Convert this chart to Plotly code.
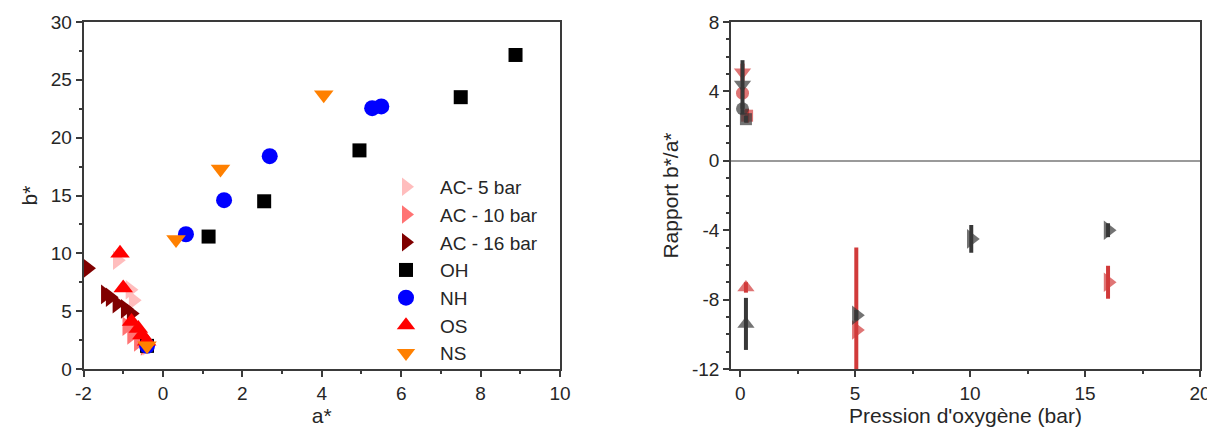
import plotly.graph_objects as go

# ---------------- Left panel data (a*, b*) ----------------
ac5_a = [-1.15, -0.83, -0.75, -0.4]
ac5_b = [9.4, 6.85, 5.95, 2.0]
ac10_a = [-0.91, -0.79, -0.62, -0.45]
ac10_b = [3.7, 2.95, 2.35, 2.0]
ac16_a = [-1.9, -1.45, -1.33, -1.16, -0.95, -0.8]
ac16_b = [8.7, 6.45, 6.2, 5.65, 5.2, 4.8]
oh_a = [-0.4, 1.15, 2.55, 4.95, 7.5, 8.88]
oh_b = [2.0, 11.45, 14.5, 18.9, 23.5, 27.15]
nh_a = [-0.4, 0.58, 1.54, 2.69, 5.27, 5.5]
nh_b = [2.0, 11.65, 14.6, 18.4, 22.55, 22.7]
os_a = [-1.08, -1.0, -0.79, -0.62, -0.53, -0.41]
os_b = [10.0, 7.0, 4.1, 3.5, 2.95, 2.4]
ns_a = [-0.4, 0.33, 1.45, 4.05]
ns_b = [2.0, 11.2, 17.3, 23.7]

# ---------------- Right panel data (b*/a* vs O2 pressure) ----------------
red_series = ["NS", "NH", "OH", "OS", "AC5", "AC16"]
red_p = [0.1, 0.1, 0.3, 0.25, 5.05, 16.0]
red_ratio = [5.1, 3.9, 2.6, -7.3, -9.75, -7.0]
red_err = [0.5, 0.3, 0.4, 0.3, 4.75, 0.95]

dark_series = ["NS", "NH", "OH", "OS", "AC5", "AC10", "AC16"]
dark_p = [0.1, 0.1, 0.25, 0.25, 5.05, 10.05, 16.0]
dark_ratio = [4.4, 3.0, 2.4, -9.4, -8.9, -4.5, -4.0]
dark_err = [1.4, 0.3, 0.2, 1.5, 0.3, 0.8, 0.4]

# tick labels
left_x_ticks = [-2, 0, 2, 4, 6, 8, 10]
left_y_ticks = [0, 5, 10, 15, 20, 25, 30]
right_x_ticks = [0, 5, 10, 15, 20]
right_y_ticks = [-12, -8, -4, 0, 4, 8]

SYM = {"NS": "triangle-down", "NH": "circle", "OH": "square", "OS": "triangle-up",
       "AC5": "triangle-right", "AC10": "triangle-right", "AC16": "triangle-right"}
SIZE = {"NS": 15, "NH": 13, "OH": 12, "OS": 15,
        "AC5": 17, "AC10": 17, "AC16": 17}

FONT = "Arial, Liberation Sans, sans-serif"
TXT = "#262626"
AX = "#3a3a3a"

# page body has an 8px margin: figure is drawn from (8, 8)
W, H, OFF = 1207, 422, 8
def fx(px):
    return (px - OFF) / W

TOP, BOT = 22 - OFF, 369 - OFF          # plot area top / bottom in figure pixels
PH = BOT - TOP

fig = go.Figure()

left = [
    ("AC- 5 bar", ac5_a, ac5_b, "triangle-right", "#FFBDBD", 17),
    ("AC - 10 bar", ac10_a, ac10_b, "triangle-right", "#FF7373", 17),
    ("AC - 16 bar", ac16_a, ac16_b, "triangle-right", "#800000", 17),
    ("OH", oh_a, oh_b, "square", "#000000", 14),
    ("NH", nh_a, nh_b, "circle", "#0000FF", 16),
    ("OS", os_a, os_b, "triangle-up", "#FF0000", 17),
    ("NS", ns_a, ns_b, "triangle-down", "#FF8000", 17),
]
for name, xs, ys, sym, col, sz in left:
    fig.add_trace(go.Scatter(x=xs, y=ys, mode="markers", name=name,
                             marker=dict(symbol=sym, color=col, size=sz, line=dict(width=0)),
                             xaxis="x", yaxis="y", cliponaxis=False))

fig.add_trace(go.Scatter(
    x=red_p, y=red_ratio, mode="markers", showlegend=False,
    marker=dict(symbol=[SYM[s] for s in red_series], size=[SIZE[s] for s in red_series],
                color="#D13A3A", line=dict(width=0)),
    error_y=dict(type="data", array=red_err, visible=True, color="#D13A3A", thickness=4, width=0),
    xaxis="x2", yaxis="y2", cliponaxis=True))
fig.add_trace(go.Scatter(
    x=dark_p, y=dark_ratio, mode="markers", showlegend=False,
    marker=dict(symbol=[SYM[s] for s in dark_series], size=[SIZE[s] for s in dark_series],
                color="#383838", line=dict(width=0)),
    error_y=dict(type="data", array=dark_err, visible=True, color="#383838", thickness=4, width=0),
    xaxis="x2", yaxis="y2", cliponaxis=True))

def axis_common():
    return dict(showgrid=False, zeroline=False, showline=True, linecolor=AX, linewidth=1.5,
                mirror=True, ticks="outside", ticklen=6, tickwidth=1.5, tickcolor=AX,
                automargin=False,
                tickfont=dict(family=FONT, size=19, color=TXT))

TF = dict(family=FONT, size=21, color=TXT)

xa = axis_common()
xa.update(domain=[fx(83.5), fx(560)], range=[-2, 10], tickvals=left_x_ticks,
          ticktext=[str(v) for v in left_x_ticks],
          minor=dict(dtick=1, tick0=-2, ticks="outside", ticklen=3, tickwidth=1.5, tickcolor=AX),
          title=dict(text="a*", font=TF, standoff=1))
ya = axis_common()
ya.update(domain=[0, 1], range=[0, 30], tickvals=left_y_ticks,
          ticktext=[str(v) for v in left_y_ticks],
          minor=dict(dtick=2.5, tick0=0, ticks="outside", ticklen=3, tickwidth=1.5, tickcolor=AX),
          title=dict(text="b*", font=TF, standoff=7))
xa2 = axis_common()
xa2.update(domain=[fx(731), fx(1200)], range=[-0.4, 20], tickvals=right_x_ticks,
           ticktext=[str(v) for v in right_x_ticks],
           minor=dict(dtick=2.5, tick0=0, ticks="outside", ticklen=3, tickwidth=1.5, tickcolor=AX),
           title=dict(text="Pression d'oxygène (bar)", font=TF, standoff=1),
           anchor="y2")
ya2 = axis_common()
ya2.update(domain=[0, 1], range=[-12, 8], tickvals=right_y_ticks,
           ticktext=[str(v) for v in right_y_ticks], zeroline=True, zerolinecolor="#9a9a9a",
           zerolinewidth=2,
           minor=dict(dtick=1, tick0=0, ticks="outside", ticklen=3, tickwidth=1.5, tickcolor=AX),
           title=dict(text="Rapport b*/a*", font=TF, standoff=8),
           anchor="x2")

fig.update_layout(
    width=W, height=H,
    margin=dict(l=0, r=0, t=TOP, b=H - BOT),
    paper_bgcolor="white", plot_bgcolor="white",
    xaxis=xa, yaxis=ya, xaxis2=xa2, yaxis2=ya2,
    legend=dict(x=fx(372), xanchor="left", y=(BOT - (168 - OFF)) / PH, yanchor="top",
                bgcolor="rgba(0,0,0,0)", borderwidth=0,
                font=dict(family=FONT, size=19, color=TXT), tracegroupgap=0,
                itemsizing="trace", itemwidth=58),
    showlegend=True,
)

fig.write_html("out.html")
